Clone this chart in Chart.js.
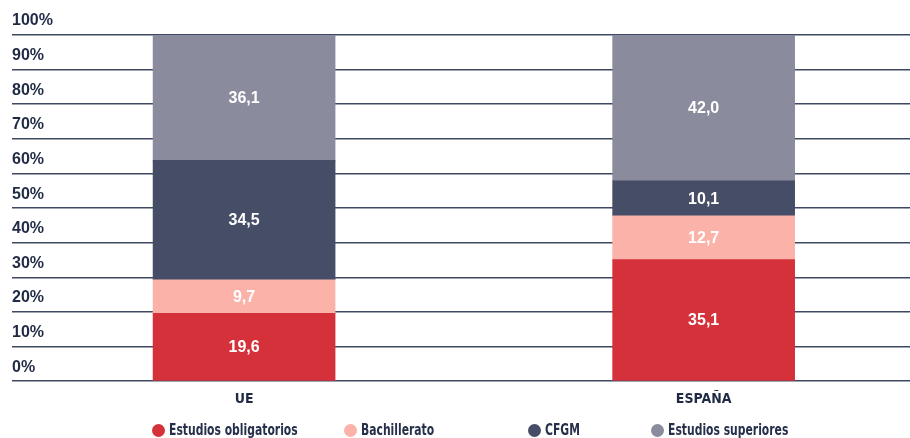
<!DOCTYPE html>
<html>
<head>
<meta charset="utf-8">
<script src="https://cdn.jsdelivr.net/npm/chart.js@4"></script>
<style>
  body { margin: 0; background: #fff; }
  #wrap { position: relative; width: 910px; height: 438px; }
  #legend { position: absolute; left: 0; top: 421px; width: 910px; height: 17px; }
  .item { position: absolute; top: 0; display: flex; align-items: center; white-space: nowrap;
    font-family: "DejaVu Sans Condensed", "Liberation Sans", sans-serif;
    font-weight: bold; font-size: 15px; color: #26304a; }
  .item span.txt { display: inline-block; transform: scaleX(0.8); transform-origin: left center; }
  .dot { width: 13px; height: 13px; border-radius: 50%; margin-right: 4px; }
</style>
</head>
<body>
<div id="wrap">
  <canvas id="chart" width="910" height="438"></canvas>
  <div id="legend"></div>
</div>
<script>
const categories = ["UE", "ESPAÑA"];
const seriesNames = ["Estudios obligatorios", "Bachillerato", "CFGM", "Estudios superiores"];
const obligatorios = [19.6, 35.1];
const bachillerato = [9.7, 12.7];
const cfgm = [34.5, 10.1];
const superiores = [36.1, 42.0];
const yTicks = [0, 10, 20, 30, 40, 50, 60, 70, 80, 90, 100];

const colors = ["#d5313a", "#fab2a9", "#464d66", "#8a8c9e"];
const values = [obligatorios, bachillerato, cfgm, superiores];
const legendLeft = [152, 344, 528, 651];

// labels inside each segment
const segmentLabels = {
  id: "segmentLabels",
  afterDatasetsDraw(chart) {
    const ctx = chart.ctx;
    ctx.save();
    ctx.fillStyle = "#ffffff";
    ctx.font = "bold 16px 'Liberation Sans', Arial, sans-serif";
    ctx.textAlign = "center";
    ctx.textBaseline = "middle";
    chart.data.datasets.forEach((ds, i) => {
      chart.getDatasetMeta(i).data.forEach((bar, j) => {
        const v = ds.data[j].y;
        ctx.fillText(v.toFixed(1).replace(".", ","), bar.x, (bar.y + bar.base) / 2 + 1);
      });
    });
    ctx.restore();
  },
};

new Chart(document.getElementById("chart"), {
  type: "bar",
  data: {
    datasets: seriesNames.map((name, i) => ({
      label: name,
      data: values[i].map((v, j) => ({ x: j, y: v })),
      backgroundColor: colors[i],
      barThickness: 182,
    })),
  },
  options: {
    responsive: false,
    animation: false,
    layout: { padding: { left: 12, top: 35, bottom: 28, right: 0 } },
    plugins: { legend: { display: false }, tooltip: { enabled: false } },
    scales: {
      x: {
        type: "linear",
        stacked: true,
        offset: false,
        bounds: "data",
        min: -0.505,
        max: 1.449,
        afterBuildTicks: (scale) => {
          scale.ticks = categories.map((c, i) => ({ value: i }));
        },
        ticks: {
          callback: (v) => categories[v],
          font: { family: "'DejaVu Sans Condensed', sans-serif", size: 14, weight: "bold" },
          color: "#1f2a44",
          padding: 2,
          maxRotation: 0,
        },
        grid: { display: false },
        border: { display: false },
      },
      y: {
        stacked: true,
        min: 0,
        max: 100,
        afterBuildTicks: (scale) => {
          scale.ticks = yTicks.map((v) => ({ value: v }));
        },
        ticks: {
          mirror: true,
          padding: 0,
          labelOffset: -14,
          callback: (v) => v + "%",
          font: { family: "'Liberation Sans', Arial, sans-serif", size: 16, weight: "bold" },
          color: "#1f2a44",
        },
        grid: { color: "#3e4862", lineWidth: 1.5, drawTicks: false },
        border: { display: false },
      },
    },
  },
  plugins: [segmentLabels],
});

const legend = document.getElementById("legend");
seriesNames.forEach((name, i) => {
  const item = document.createElement("div");
  item.className = "item";
  item.style.left = legendLeft[i] + "px";
  item.innerHTML = `<span class="dot" style="background:${colors[i]}"></span><span class="txt">${name}</span>`;
  legend.appendChild(item);
});
</script>
</body>
</html>
